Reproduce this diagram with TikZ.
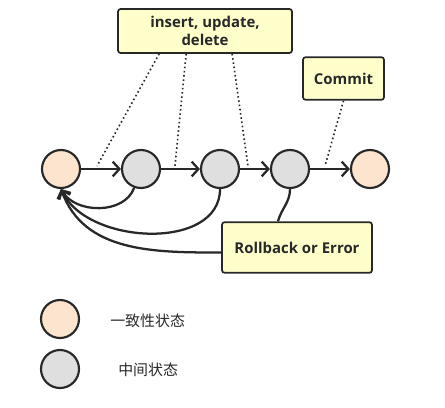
\documentclass[tikz,border=0pt]{standalone}
\usepackage{fontspec}
\setmainfont{Open Sans}
\newfontfamily\cjk{Noto Sans CJK SC}
\usetikzlibrary{arrows.meta}
\definecolor{peach}{RGB}{252,228,206}
\definecolor{midgray}{RGB}{223,223,223}
\definecolor{notefill}{RGB}{255,255,204}
\definecolor{edge}{RGB}{40,40,40}
\tikzset{
  okstate/.style={circle,draw=edge,line width=1.6pt,fill=peach,minimum size=28.5pt,inner sep=0pt},
  midstate/.style={circle,draw=edge,line width=1.6pt,fill=midgray,minimum size=28.5pt,inner sep=0pt},
  note/.style={draw=edge,line width=1.3pt,fill=notefill,rounded corners=2pt,font=\bfseries\fontsize{11.2}{13.5}\selectfont,align=center,text=edge},
  flow/.style={draw=edge,line width=1.7pt,-{Straight Barb[length=5pt,width=11pt,line width=1.7pt]}},
  back/.style={draw=edge,line width=1.7pt,-{Straight Barb[length=5pt,width=10pt,line width=1.7pt]}},
  link/.style={draw=edge,line width=1.2pt,dotted},
  legendtext/.style={anchor=west,inner sep=0pt,font=\cjk\fontsize{11.2}{12}\selectfont,text=edge}
}
\begin{document}
\begin{tikzpicture}[x=0.75pt,y=0.75pt,yscale=-1,xscale=1]
\useasboundingbox (0,0) rectangle (445,407);

% states
\node[okstate]  (c1) at (61,169) {};
\node[midstate] (c2) at (141,169) {};
\node[midstate] (c3) at (220,169) {};
\node[midstate] (c4) at (290,169) {};
\node[okstate]  (c5) at (370,169) {};

% notes
\node[note,minimum width=130.5pt,minimum height=33pt] (ops) at (205,31) {insert, update,\\delete};
\node[note,minimum width=60.75pt,minimum height=32pt] (commit) at (343.5,78.5) {Commit};
\node[note,minimum width=112.5pt,minimum height=38pt] (rollback) at (297,247.5) {Rollback or Error};

% forward steps
\draw[flow] (c1) -- (c2);
\draw[flow] (c2) -- (c3);
\draw[flow] (c3) -- (c4);
\draw[flow] (c4) -- (c5);

% dotted callouts
\coordinate (p1) at (97,166);
\coordinate (p2) at (175,166);
\coordinate (p3) at (248,166);
\coordinate (p4) at (325,166);
\draw[link] (ops.south west) ++(42,0) -- (p1);
\draw[link] (ops.south west) ++(69,0) -- (p2);
\draw[link] (ops.south west) ++(115,0) -- (p3);
\draw[link] (commit.south) -- (p4);

% roll back
\draw[back] (c2.250) to[out=110,in=60] (c1.south);
\draw[back] (c3.south) to[out=90,in=65] (c1.south);
\draw[draw=edge,line width=1.7pt] (c4.south) to[out=90,in=-75] (rollback.north west -| 278,0);
\draw[back] (rollback.west) ++(0,5) to[out=180,in=70] (c1.south);

% legend
\node[okstate]  (lgA) at (60,319) {};
\node[midstate] (lgB) at (60,369) {};
\node[legendtext] (lgAtext) at (110,321) {一致性状态};
\node[legendtext] (lgBtext) at (118,370) {中间状态};

\end{tikzpicture}
\end{document}
